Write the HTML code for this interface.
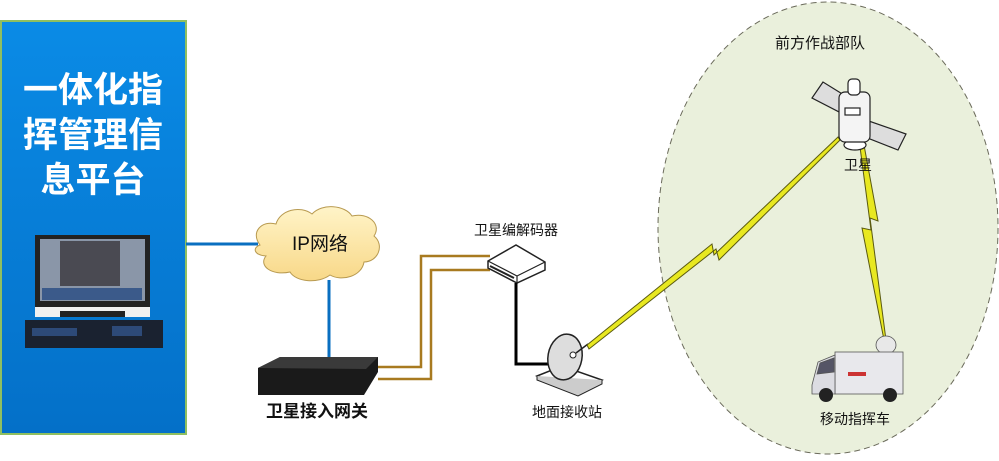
<!DOCTYPE html>
<html><head><meta charset="utf-8"><style>
body{margin:0;background:#fff;width:999px;height:456px;overflow:hidden}
text{font-family:"Liberation Sans","Noto Sans CJK SC",sans-serif}
</style></head><body>
<svg width="999" height="456" viewBox="0 0 999 456" xmlns="http://www.w3.org/2000/svg">
<defs>
<linearGradient id="bl" x1="0" y1="0" x2="0" y2="1"><stop offset="0" stop-color="#0a8be6"/><stop offset="1" stop-color="#0470c8"/></linearGradient>
<linearGradient id="cl" x1="0" y1="0" x2="0" y2="1"><stop offset="0" stop-color="#fff4c8"/><stop offset="1" stop-color="#f8d888"/></linearGradient>
</defs>
<ellipse cx="828" cy="228" rx="170" ry="226" fill="#eaf0dc" stroke="#6a6a5a" stroke-dasharray="6,4"/>
<rect x="1" y="21" width="185" height="413" fill="url(#bl)" stroke="#8fbf60" stroke-width="2"/>
<text x="93" y="102" font-size="35" font-weight="bold" fill="#fff" text-anchor="middle">一体化指</text>
<text x="93" y="147" font-size="35" font-weight="bold" fill="#fff" text-anchor="middle">挥管理信</text>
<text x="93" y="192" font-size="35" font-weight="bold" fill="#fff" text-anchor="middle">息平台</text>
<!-- monitor -->
<rect x="35" y="235" width="115" height="72" fill="#222"/>
<rect x="40" y="239" width="105" height="62" fill="#8a96a8"/>
<rect x="60" y="241" width="60" height="45" fill="#4a4a52"/>
<rect x="42" y="288" width="100" height="12" fill="#3b5a8a"/>
<rect x="35" y="307" width="115" height="10" fill="#f0f0f0"/>
<rect x="60" y="311" width="65" height="6" fill="#222"/>
<rect x="25" y="320" width="138" height="28" fill="#1a2230"/>
<rect x="32" y="328" width="45" height="8" fill="#2d4a78"/>
<rect x="112" y="326" width="30" height="10" fill="#2d4a78"/>
<!-- links -->
<line x1="186" y1="244" x2="258" y2="244" stroke="#0a6fc0" stroke-width="3"/>
<line x1="329" y1="280" x2="329" y2="358" stroke="#0a6fc0" stroke-width="3"/>
<!-- cloud -->
<path d="M260 245 C250 232 262 220 276 224 C280 210 300 205 312 214 C322 203 345 205 352 216 C368 212 382 224 374 236 C385 245 378 262 364 262 C362 276 342 282 330 275 C318 284 296 282 290 272 C272 276 258 266 266 256 C254 255 252 248 260 245 Z" fill="url(#cl)" stroke="#b89a50"/>
<text x="320" y="250" font-size="19" fill="#111" text-anchor="middle">IP网络</text>
<!-- gateway -->
<path d="M258 368 L280 357 L378 357 L378 372 L364 395 L258 395 Z" fill="#1a1a1a"/>
<path d="M258 368 L280 357 L378 357 L366 369 Z" fill="#3a3a3a"/>
<text x="317" y="417" font-size="17" font-weight="bold" fill="#111" text-anchor="middle">卫星接入网关</text>
<!-- brown lines -->
<polyline points="378,367 421,367 421,256 490,256" fill="none" stroke="#a87a20" stroke-width="2.5"/>
<polyline points="378,379 431,379 431,270 490,270" fill="none" stroke="#a87a20" stroke-width="2.5"/>
<!-- decoder -->
<path d="M488 261 L516 245 L545 262 L545 270 L517 283 L488 268 Z" fill="#fff" stroke="#222" stroke-width="1.5"/>
<path d="M488 261 L517 276 L545 262 M517 276 L517 283" fill="none" stroke="#222" stroke-width="1.2"/>
<path d="M490 266 L514 278" stroke="#222" stroke-width="2"/>
<text x="516" y="235" font-size="14" fill="#111" text-anchor="middle">卫星编解码器</text>
<polyline points="516,283 516,364 550,364" fill="none" stroke="#000" stroke-width="3"/>
<!-- dish -->
<path d="M537 376 L562 366 L602 380 L578 392 Z" fill="#fff" stroke="#222" stroke-width="1.5"/>
<path d="M537 376 L537 380 L578 396 L602 384 L602 380" fill="#ccc" stroke="#222"/>
<ellipse cx="565" cy="357" rx="17" ry="23" transform="rotate(10 565 357)" fill="#ddd" stroke="#222" stroke-width="1.5"/>
<circle cx="573" cy="355" r="3" fill="#fff" stroke="#222"/>
<line x1="576" y1="353" x2="588" y2="344" stroke="#222" stroke-width="1.5"/>
<text x="567" y="417" font-size="14" fill="#111" text-anchor="middle">地面接收站</text>
<!-- lightning 1 -->
<path d="M587 345 L712 244 L714 255 L838 137 L840 140 L719 260 L716 249 L589 349 Z" fill="#e8e820" stroke="#5a5a10" stroke-width="1"/>
<!-- lightning 2 -->
<path d="M864 145 L878 221 L870 218 L886 340 L884 340 L862 228 L871 230 L860 147 Z" fill="#e8e820" stroke="#5a5a10" stroke-width="1"/>
<!-- satellite -->
<g stroke="#222" stroke-width="1.2">
<polygon points="823,82 812,98 845,115 852,100" fill="#ddd"/>
<polygon points="866,120 860,135 898,150 906,134" fill="#ddd"/>
<ellipse cx="855" cy="145" rx="11" ry="5" fill="#fff"/>
<rect x="839" y="92" width="31" height="50" rx="6" fill="#f4f4f4"/>
<rect x="848" y="79" width="12" height="16" rx="4" fill="#fff"/>
<rect x="845" y="108" width="15" height="7" fill="#fff"/>
</g>
<text x="858" y="170" font-size="14" fill="#111" text-anchor="middle">卫星</text>
<text x="820" y="48" font-size="15" fill="#111" text-anchor="middle">前方作战部队</text>
<!-- truck -->
<g stroke="#555" stroke-width="0.8">
<ellipse cx="886" cy="345" rx="10" ry="9" fill="#e8e8e8"/>
<rect x="835" y="352" width="68" height="42" fill="#e8e8ec"/>
<path d="M812 385 L818 362 L835 355 L835 394 L812 394 Z" fill="#dcdce2"/>
<path d="M820 363 L834 358 L834 372 L817 374 Z" fill="#556"/>
<rect x="848" y="372" width="18" height="4" fill="#c33" stroke="none"/>
</g>
<circle cx="826" cy="395" r="7" fill="#222"/><circle cx="890" cy="395" r="7" fill="#222"/>
<text x="855" y="424" font-size="14" fill="#111" text-anchor="middle">移动指挥车</text>
</svg>
</body></html>
